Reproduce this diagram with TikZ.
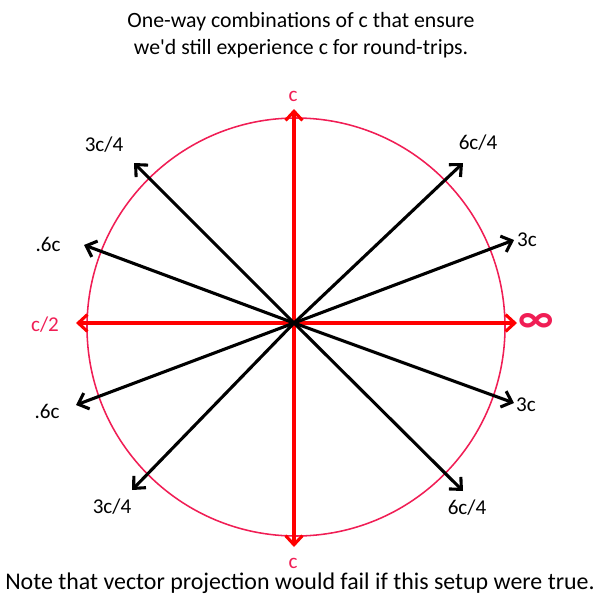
\documentclass[tikz,border=0pt]{standalone}
\usepackage{fontspec}
\setmainfont{Carlito}
\usetikzlibrary{arrows.meta}
\definecolor{ringpink}{RGB}{240,30,85}
\tikzset{
  dirarrow/.style={black, line width=2.2pt, -{Straight Barb[length=6.5pt,width=12pt,line width=2.2pt]}},
  axisarrow/.style={red, line width=2.2pt, -{Straight Barb[length=6.5pt,width=12pt,line width=2.2pt]}},
  lbl/.style={font=\fontsize{15}{17}\selectfont, inner sep=0pt},
  axlbl/.style={lbl, text=ringpink}
}
\begin{document}
\begin{tikzpicture}[x=0.025cm, y=-0.025cm]
	\useasboundingbox (0,0) rectangle (600,600);

	% title and note
	\node[font=\fontsize{15.5}{19}\selectfont, align=center, inner sep=0pt] (title) at (301,35) {One-way combinations of c that ensure\\we\textquotesingle d still experience c for round-trips.};
	\node[font=\fontsize{17}{19}\selectfont, inner sep=0pt] (note) at (300,583) {Note that vector projection would fail if this setup were true.};

	% ring
	\draw[ringpink, line width=1.1pt] (296,327) circle (209);

	\coordinate (o) at (294,323);

	% red axes
	\coordinate (up) at (294,109);
	\coordinate (down) at (294,547);
	\coordinate (left) at (76,323);
	\coordinate (right) at (517,323);
	\draw[axisarrow] (o) -- (up);
	\draw[axisarrow] (o) -- (down);
	\draw[axisarrow] (o) -- (left);
	\draw[axisarrow] (o) -- (right);
	\node[axlbl] (cup) at (293,96) {c};
	\node[axlbl] (cdown) at (293,563) {c};
	\node[axlbl] (chalf) at (45,325) {c/2};
	\node[text=ringpink, font=\fontsize{30}{30}\selectfont\bfseries, inner sep=0pt] (inf) at (536,323) {∞};

	% black directions
	\coordinate (ul) at (134,163);
	\coordinate (ur) at (463,163);
	\coordinate (rup) at (514,240);
	\coordinate (lup) at (84,245);
	\coordinate (llo) at (76,405);
	\coordinate (rlo) at (514,403);
	\coordinate (dl) at (132,490);
	\coordinate (dr) at (463,491);
	\draw[dirarrow] (o) -- (ul);
	\draw[dirarrow] (o) -- (ur);
	\draw[dirarrow] (o) -- (rup);
	\draw[dirarrow] (o) -- (lup);
	\draw[dirarrow] (o) -- (llo);
	\draw[dirarrow] (o) -- (rlo);
	\draw[dirarrow] (o) -- (dl);
	\draw[dirarrow] (o) -- (dr);

	\node[lbl] (lul) at (104,145) {3c/4};
	\node[lbl] (lur) at (478,143) {6c/4};
	\node[lbl] (lrup) at (527,240) {3c};
	\node[lbl] (llup) at (48,244) {.6c};
	\node[lbl] (lllo) at (47,411) {.6c};
	\node[lbl] (lrlo) at (526,405) {3c};
	\node[lbl] (ldl) at (112,507) {3c/4};
	\node[lbl] (ldr) at (467,508) {6c/4};
\end{tikzpicture}
\end{document}
